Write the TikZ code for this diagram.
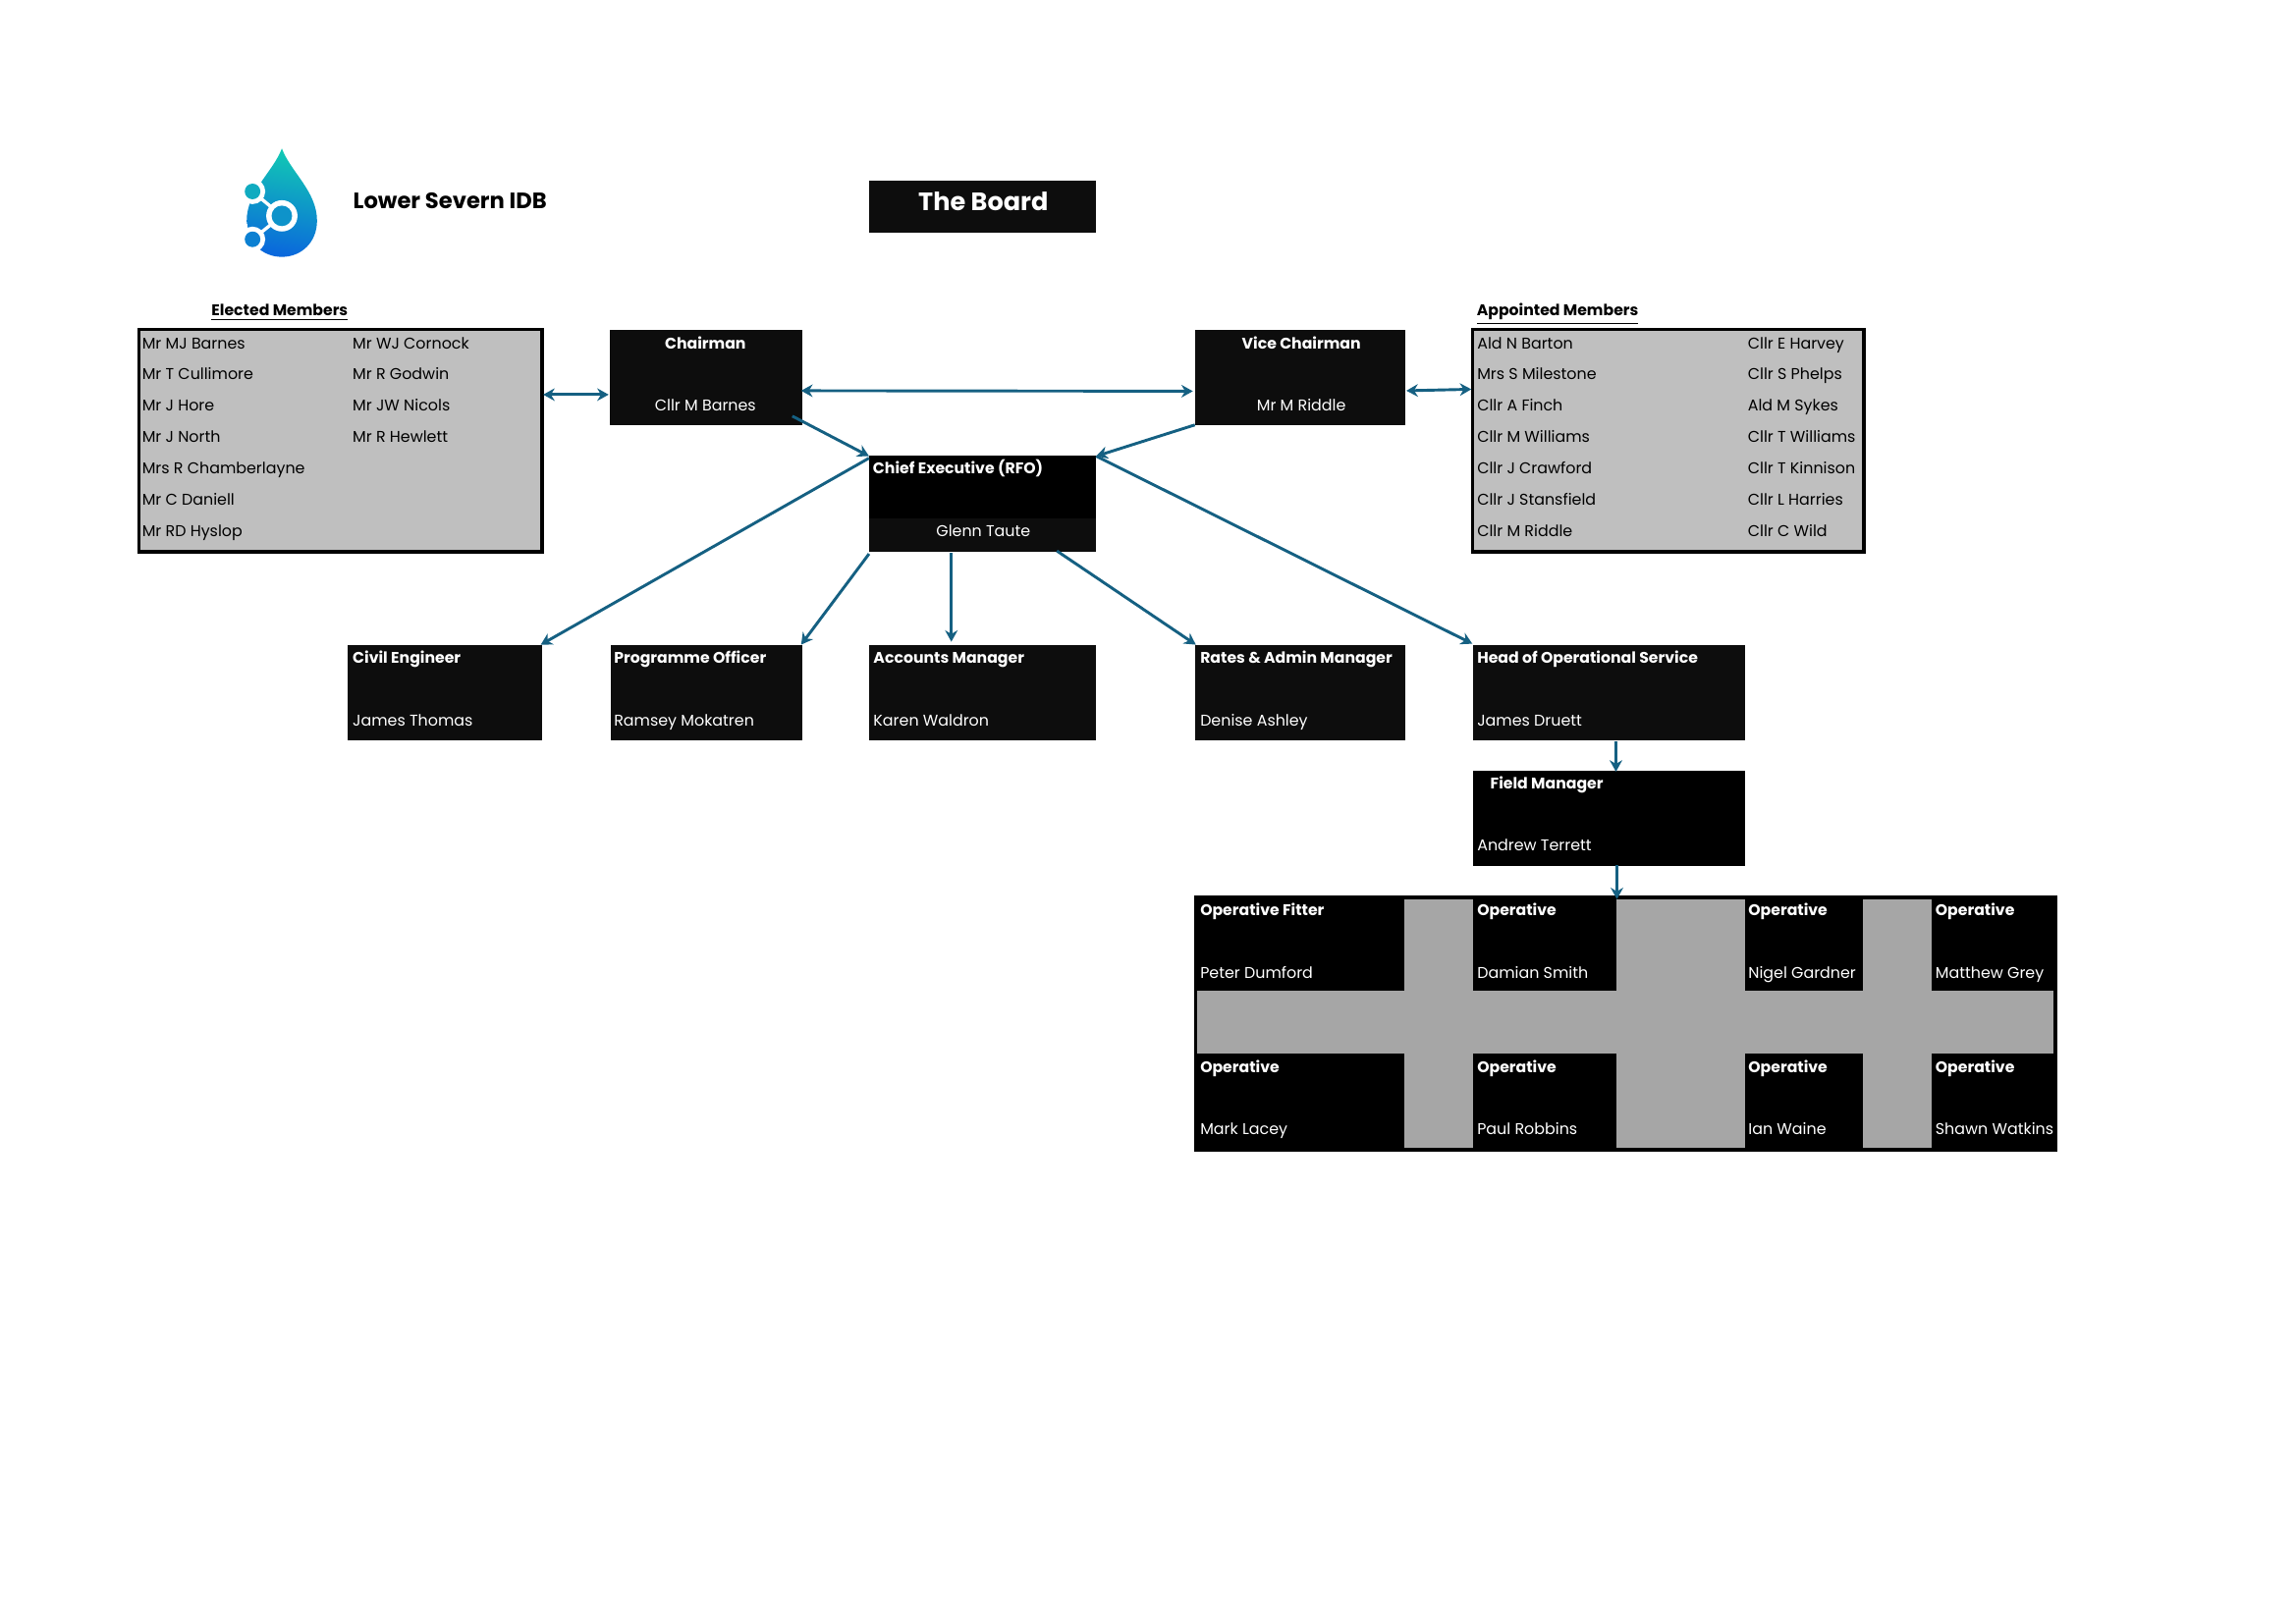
\documentclass[tikz,border=0pt]{standalone}
\usepackage{fontspec}
\setmainfont{Poppins}
\usetikzlibrary{fit,arrows.meta}
\definecolor{boxd}{HTML}{0D0D0D}
\definecolor{memb}{HTML}{BFBFBF}
\definecolor{opsg}{HTML}{A6A6A6}
\definecolor{conn}{HTML}{156082}
\definecolor{dropa}{HTML}{12C8B4}
\definecolor{dropb}{HTML}{0A68DC}
\tikzset{
  blk/.style={fit={#1},inner sep=0pt,outer sep=0pt,fill=boxd,draw=none},
  blk0/.style={fit={#1},inner sep=0pt,outer sep=0pt,fill=black,draw=none},
  memberbox/.style={fit={#1},inner sep=0pt,outer sep=0pt,fill=memb,draw=black,line width=1.25pt},
  greyc/.style={fit={#1},inner sep=0pt,outer sep=0pt,fill=opsg,draw=none},
  t/.style={anchor=base west,inner sep=0pt,yshift=-0.3pt,font=\fontsize{5.72}{7}\selectfont,text=black},
  w/.style={t,text=white},
  wb/.style={t,text=white,font=\fontsize{5.65}{7}\selectfont\bfseries},
  wc/.style={w,anchor=base},
  wbc/.style={wb,anchor=base},
  hd/.style={t,font=\fontsize{5.65}{7}\selectfont\bfseries},
  cn/.style={draw=conn,line width=1.05pt,-{Stealth[length=4.2pt,width=4.6pt]}},
  cnb/.style={draw=conn,line width=1.05pt,{Stealth[length=4.2pt,width=4.6pt]}-{Stealth[length=4.2pt,width=4.6pt]}},
}
\begin{document}
\begin{tikzpicture}[x=0.35815pt,y=-0.35815pt]
\useasboundingbox (0,0) rectangle (2350.1,1662.55);
% logo
\begin{scope}[shift={(1.5,1)}]
\shade[top color=dropa,bottom color=dropb,shading angle=-10]
  (287,151) .. controls (296,175) and (323,195) .. (323,225)
  .. controls (323,247) and (307,262) .. (287,262)
  .. controls (267,262) and (251,247) .. (251,225)
  .. controls (251,195) and (278,175) .. (287,151) -- cycle;
\fill[white] (240,150) rectangle (251,270);
\fill[white] (257,195) circle (13);
\fill[white] (257,244) circle (13);
\draw[white,line width=1.2pt] (257,195) -- (287,220) -- (257,244);
\fill[white] (287,220) circle (16);
\fill[white] (240,228) rectangle (252,236);
\fill[white] (240,200) rectangle (252,210);
\fill[dropa!70!dropb] (257,195) circle (8);
\fill[dropa!25!dropb] (257,244) circle (8);
\fill[dropa!45!dropb] (287,220) circle (10.5);
\end{scope}
\node[font=\fontsize{8.15}{10}\selectfont\bfseries,anchor=base west,inner sep=0pt] (logotext) at (361,214) {Lower Severn IDB};
% title
\node[blk={(889.5,184.5)(1122,238)}] (board) {};
\node[font=\fontsize{9.2}{12}\selectfont\bfseries,text=white,anchor=base,inner sep=0pt] (boardt) at (1006.5,215.5) {The Board};
% elected
\node[hd] (eh) at (216,322) {\underline{Elected Members}};
\node[memberbox={(142,337)(555,565)}] (elected) {};
\node[t] (e1) at (145,356.5) {Mr MJ Barnes};
\node[t] (e2) at (145,388) {Mr T Cullimore};
\node[t] (e3) at (145,420) {Mr J Hore};
\node[t] (e4) at (145,452) {Mr J North};
\node[t] (e5) at (145,484) {Mrs R Chamberlayne};
\node[t] (e6) at (145,516) {Mr C Daniell};
\node[t] (e7) at (145,548) {Mr RD Hyslop};
\node[t] (e8) at (360.5,356.5) {Mr WJ Cornock};
\node[t] (e9) at (360.5,388) {Mr R Godwin};
\node[t] (e10) at (360.5,420) {Mr JW Nicols};
\node[t] (e11) at (360.5,452) {Mr R Hewlett};
% appointed
\node[hd] (ah) at (1511,322) {\underline{Appointed Members}};
\node[memberbox={(1507,337)(1908,565)}] (appointed) {};
\node[t] (a1) at (1511.5,356.5) {Ald N Barton};
\node[t] (a2) at (1511.5,388) {Mrs S Milestone};
\node[t] (a3) at (1511.5,420) {Cllr A Finch};
\node[t] (a4) at (1511.5,452) {Cllr M Williams};
\node[t] (a5) at (1511.5,484) {Cllr J Crawford};
\node[t] (a6) at (1511.5,516) {Cllr J Stansfield};
\node[t] (a7) at (1511.5,548) {Cllr M Riddle};
\node[t] (a8) at (1788.5,356.5) {Cllr E Harvey};
\node[t] (a9) at (1788.5,388) {Cllr S Phelps};
\node[t] (a10) at (1788.5,420) {Ald M Sykes};
\node[t] (a11) at (1788.5,452) {Cllr T Williams};
\node[t] (a12) at (1788.5,484) {Cllr T Kinnison};
\node[t] (a13) at (1788.5,516) {Cllr L Harries};
\node[t] (a14) at (1788.5,548) {Cllr C Wild};
% chairman, vice
\node[blk={(624,338)(821,435)}] (chair) {};
\node[wbc] (chair1) at (722,356.5) {Chairman};
\node[wc] (chair2) at (722,420) {Cllr M Barnes};
\node[blk={(1223,338)(1438.5,435)}] (vice) {};
\node[wbc] (vice1) at (1332,356.5) {Vice Chairman};
\node[wc] (vice2) at (1332,420) {Mr M Riddle};
% chief
\node[blk={(889.5,466)(1122,565)}] (chief) {};
\node[blk0={(889.5,466)(1122,530.5)}] (chieftop) {};
\node[wb] (chief1) at (893,484) {Chief Executive (RFO)};
\node[wc] (chief2) at (1006.5,548) {Glenn Taute};
% second row
\node[blk={(356,660)(554.5,758)}] (civil) {};
\node[wb] (civil1) at (360.5,678) {Civil Engineer};
\node[w] (civil2) at (360.5,742) {James Thomas};
\node[blk={(625,660)(821,758)}] (prog) {};
\node[wb] (prog1) at (628,678) {Programme Officer};
\node[w] (prog2) at (628,742) {Ramsey Mokatren};
\node[blk={(889.5,660)(1122,758)}] (acc) {};
\node[wb] (acc1) at (893.5,678) {Accounts Manager};
\node[w] (acc2) at (893.5,742) {Karen Waldron};
\node[blk={(1223,660)(1438.5,758)}] (rates) {};
\node[wb] (rates1) at (1228,678) {Rates \& Admin Manager};
\node[w] (rates2) at (1228,742) {Denise Ashley};
\node[blk={(1508,660)(1786,758)}] (head) {};
\node[wb] (head1) at (1511.5,678) {Head of Operational Service};
\node[w] (head2) at (1511.5,742) {James Druett};
\node[blk0={(1508,789)(1786,886.5)}] (field) {};
\node[wb] (field1) at (1525,807) {Field Manager};
\node[w] (field2) at (1511.5,870.5) {Andrew Terrett};
% operatives
\node[blk0={(1222,916.5)(2106,1179)}] (ops) {};
\node[greyc={(1225.5,1014.5)(2102,1078.5)}] (band) {};
\node[greyc={(1437,921)(1508,1175)}] (gap1) {};
\node[greyc={(1654,921)(1786,1175)}] (gap2) {};
\node[greyc={(1906.5,921)(1977,1175)}] (gap3) {};
\node[wb] (o1) at (1228,936) {Operative Fitter};
\node[w] (o2) at (1228,1000.5) {Peter Dumford};
\node[wb] (o3) at (1511.5,936) {Operative};
\node[w] (o4) at (1511.5,1000.5) {Damian Smith};
\node[wb] (o5) at (1789,936) {Operative};
\node[w] (o6) at (1789,1000.5) {Nigel Gardner};
\node[wb] (o7) at (1980.5,936) {Operative};
\node[w] (o8) at (1980.5,1000.5) {Matthew Grey};
\node[wb] (o9) at (1228,1097) {Operative};
\node[w] (o10) at (1228,1161) {Mark Lacey};
\node[wb] (o11) at (1511.5,1097) {Operative};
\node[w] (o12) at (1511.5,1161) {Paul Robbins};
\node[wb] (o13) at (1789,1097) {Operative};
\node[w] (o14) at (1789,1161) {Ian Waine};
\node[wb] (o15) at (1980.5,1097) {Operative};
\node[w] (o16) at (1980.5,1161) {Shawn Watkins};
% connectors
\draw[cnb] ([shift={(1,-47)}]elected.east) -- ([shift={(-1,17.5)}]chair.west);
\draw[cnb] ([shift={(-1,13.5)}]chair.east) -- ([shift={(-2,14)}]vice.west);
\draw[cnb] ([shift={(1,13.5)}]vice.east) -- ([shift={(-1,-52.5)}]appointed.west);
\draw[cn] ([shift={(-10,-9)}]chair.south east) -- ([shift={(0,1)}]chief.north west);
\draw[cn] (vice.south west) -- ([shift={(0,1)}]chief.north east);
\draw[cn] ([shift={(0,3)}]chief.north west) -- ([shift={(-1,0)}]civil.north east);
\draw[cn] ([shift={(0,2)}]chief.south west) -- ([shift={(-1,0)}]prog.north east);
\draw[cn] ([shift={(-32,1)}]chief.south) -- ([shift={(-32,-3)}]acc.north);
\draw[cn] ([shift={(76,-1)}]chief.south) -- ([shift={(1,0)}]rates.north west);
\draw[cn] ([shift={(0,1)}]chief.north east) -- ([shift={(-1,-1)}]head.north west);
\draw[cn] ([shift={(7,1)}]head.south) -- ([shift={(7,1)}]field.north);
\draw[cn] ([shift={(8,-1)}]field.south) -- ([shift={(8,4)}]ops.north -| field.south);
\end{tikzpicture}
\end{document}
